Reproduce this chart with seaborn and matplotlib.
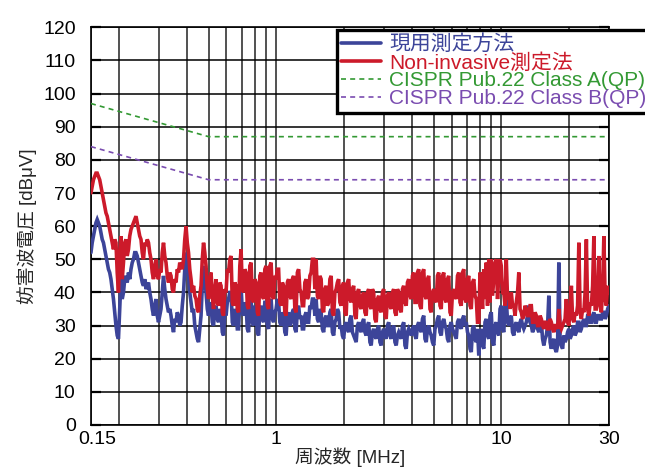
import numpy as np
import pandas as pd
import matplotlib
matplotlib.use("Agg")
import matplotlib.pyplot as plt
import matplotlib.transforms as mtransforms
import seaborn as sns
from matplotlib.ticker import LogLocator, NullFormatter, FixedLocator

# ---------------- data ----------------
n_points = 415
freq_start, freq_stop = 0.15, 30.0

red_noninvasive = [
    70, 72, 74, 75, 76, 76, 75, 74, 72, 70,
    68, 66, 64, 63, 61, 59, 57, 55, 53, 56,
    55, 46, 40, 52, 57, 44, 49, 55, 56, 51,
    53, 57, 59, 60, 61, 62, 63, 61, 59, 57,
    56, 52, 50, 55, 54, 56, 55, 52, 50, 46,
    44, 48, 50, 45, 44, 47, 46, 52, 55, 51,
    49, 45, 43, 46, 45, 41, 40, 44, 43, 47,
    46, 49, 48, 47, 50, 56, 60, 55, 52, 47,
    44, 40, 42, 39, 38, 35, 34, 39, 42, 50,
    55, 52, 48, 41, 38, 44, 46, 39, 35, 41,
    44, 37, 36, 43, 42, 34, 33, 41, 40, 47,
    46, 50, 51, 37, 36, 43, 42, 35, 34, 48,
    53, 41, 40, 47, 46, 36, 35, 48, 49, 38,
    37, 44, 43, 34, 33, 45, 46, 39, 38, 47,
    48, 36, 35, 48, 49, 39, 38, 45, 44, 47,
    47, 37, 36, 43, 42, 34, 33, 43, 44, 39,
    38, 44, 45, 35, 34, 46, 47, 41, 40, 36,
    36, 43, 44, 38, 39, 45, 46, 50, 50, 41,
    50, 39, 38, 45, 44, 35, 34, 41, 42, 36,
    37, 44, 45, 34, 33, 40, 41, 43, 44, 37,
    36, 42, 43, 34, 33, 43, 44, 38, 37, 41,
    42, 33, 32, 40, 41, 36, 35, 39, 40, 34,
    33, 40, 41, 36, 35, 41, 40, 32, 31, 38,
    39, 35, 34, 40, 41, 33, 32, 39, 40, 36,
    35, 40, 41, 34, 33, 41, 40, 35, 34, 41,
    42, 37, 36, 43, 44, 39, 38, 45, 46, 37,
    37, 46, 47, 36, 35, 46, 47, 39, 38, 44,
    45, 35, 34, 40, 41, 38, 37, 45, 46, 36,
    35, 45, 46, 38, 37, 44, 45, 34, 33, 40,
    41, 39, 38, 45, 46, 37, 36, 46, 47, 38,
    37, 44, 45, 36, 35, 43, 44, 39, 38, 31,
    31, 46, 42, 35, 47, 38, 49, 36, 50, 37,
    50, 39, 44, 49, 50, 38, 45, 50, 48, 40,
    40, 36, 50, 38, 39, 35, 40, 36, 36, 33,
    37, 40, 46, 35, 34, 32, 33, 36, 35, 33,
    33, 36, 36, 31, 31, 34, 33, 30, 30, 33,
    32, 30, 29, 31, 31, 29, 29, 32, 31, 29,
    28, 30, 30, 29, 35, 30, 29, 30, 31, 32,
    38, 31, 30, 35, 42, 32, 31, 34, 33, 36,
    55, 34, 32, 35, 34, 40, 56, 35, 33, 37,
    36, 42, 57, 35, 35, 40, 51, 36, 34, 41,
    57, 38, 36, 42, 40,
]

blue_current = [
    52, 55, 57, 59, 61, 62, 61, 60, 58, 56,
    55, 53, 51, 49, 47, 46, 44, 41, 38, 34,
    30, 27, 26, 35, 44, 38, 40, 44, 45, 43,
    46, 44, 47, 49, 50, 52, 52, 51, 49, 47,
    45, 43, 42, 44, 41, 42, 43, 40, 38, 35,
    33, 36, 38, 33, 31, 33, 35, 40, 45, 41,
    38, 36, 34, 35, 33, 30, 28, 32, 31, 34,
    33, 30, 31, 36, 40, 47, 52, 48, 45, 40,
    37, 34, 35, 30, 28, 26, 25, 29, 33, 42,
    48, 44, 40, 35, 33, 37, 36, 31, 30, 35,
    36, 32, 31, 35, 34, 28, 27, 34, 33, 37,
    38, 40, 40, 31, 30, 35, 34, 29, 29, 38,
    42, 34, 33, 37, 36, 29, 28, 37, 38, 31,
    30, 36, 35, 28, 27, 35, 36, 32, 31, 37,
    37, 30, 29, 37, 38, 32, 31, 34, 35, 38,
    37, 31, 30, 34, 33, 28, 27, 33, 34, 30,
    31, 34, 35, 29, 28, 35, 36, 32, 33, 29,
    29, 33, 34, 31, 31, 36, 35, 38, 38, 33,
    38, 32, 31, 35, 34, 29, 28, 32, 33, 30,
    30, 34, 35, 28, 27, 31, 32, 35, 34, 29,
    30, 27, 26, 30, 31, 29, 28, 32, 33, 28,
    27, 26, 25, 30, 31, 29, 28, 31, 32, 28,
    27, 30, 31, 25, 24, 28, 29, 27, 26, 29,
    30, 25, 24, 28, 29, 27, 26, 30, 31, 27,
    26, 29, 30, 25, 24, 27, 28, 27, 26, 30,
    31, 24, 23, 28, 29, 28, 27, 29, 30, 27,
    26, 30, 31, 29, 28, 32, 33, 26, 25, 29,
    30, 28, 27, 25, 24, 29, 30, 32, 33, 28,
    27, 31, 32, 30, 29, 26, 25, 30, 31, 29,
    28, 27, 26, 31, 32, 30, 29, 32, 33, 30,
    31, 28, 27, 23, 22, 29, 30, 26, 25, 29,
    21, 27, 29, 24, 23, 31, 32, 27, 26, 33,
    34, 25, 24, 30, 31, 28, 27, 35, 36, 29,
    28, 36, 38, 31, 30, 32, 33, 28, 27, 30,
    31, 29, 28, 31, 32, 30, 29, 30, 31, 33,
    36, 31, 30, 28, 29, 31, 32, 29, 28, 30,
    31, 26, 24, 26, 27, 30, 39, 25, 23, 25,
    26, 23, 22, 24, 49, 26, 24, 23, 27, 25,
    26, 28, 29, 26, 27, 29, 30, 27, 28, 31,
    31, 28, 29, 31, 32, 30, 30, 33, 33, 31,
    31, 33, 34, 31, 31, 33, 33, 32, 32, 34,
    34, 32, 33, 35, 36,
]

limit_freq = [0.15, 0.5, 30.0]
limit_class_a = [97, 87, 87]
limit_class_b = [84, 74, 74]

labels = ["現用測定方法", "Non-invasive測定法",
          "CISPR Pub.22 Class A(QP)", "CISPR Pub.22 Class B(QP)"]
xtick_vals = [0.15, 1, 10, 30]
xtick_labels = ["0.15", "1", "10", "30"]
yticks = list(range(0, 121, 10))

assert len(red_noninvasive) == n_points and len(blue_current) == n_points
freq = np.geomspace(freq_start, freq_stop, n_points)

# ---------------- style ----------------
sns.set_style("white")
plt.rcParams["font.family"] = ["Liberation Sans", "Noto Sans CJK JP"]

c_blue = "#3c4499"
c_red = "#cc1a2a"
c_green = "#339933"
c_purple = "#7a4cb0"

fig = plt.figure(figsize=(6.45, 4.67), dpi=100)
ax = fig.add_axes([0.141, 0.09, 0.803, 0.8515])

sns.lineplot(x=freq, y=blue_current, ax=ax, color=c_blue, lw=2.6,
             label=labels[0], zorder=3, solid_joinstyle="miter")
sns.lineplot(x=freq, y=red_noninvasive, ax=ax, color=c_red, lw=2.6,
             label=labels[1], zorder=4, solid_joinstyle="miter")
sns.lineplot(x=limit_freq, y=limit_class_a, ax=ax, color=c_green, lw=1.2,
             linestyle=(0, (3, 2.5)), label=labels[2], zorder=3)
sns.lineplot(x=limit_freq, y=limit_class_b, ax=ax, color=c_purple, lw=1.2,
             linestyle=(0, (3, 2.5)), label=labels[3], zorder=3)

ax.set_xscale("log")
ax.set_xlim(freq_start, freq_stop)
ax.set_ylim(0, 120)
ax.xaxis.set_major_locator(FixedLocator(xtick_vals))
ax.set_xticklabels(xtick_labels)
ax.xaxis.set_minor_locator(LogLocator(base=10, subs=range(2, 10)))
ax.xaxis.set_minor_formatter(NullFormatter())
ax.set_yticks(yticks)

ax.grid(True, which="both", axis="x", color="black", lw=1.2, alpha=0.8, zorder=1)
ax.grid(True, which="major", axis="y", color="black", lw=1.3, alpha=0.85, zorder=1)
ax.set_axisbelow(True)

ax.tick_params(axis="x", which="both", length=0, labelsize=14, pad=4, colors="black")
ax.tick_params(axis="y", which="major", direction="in", length=7, width=1.6,
               left=True, right=True, labelsize=14, pad=11, colors="black")
for s in ax.spines.values():
    s.set_color("black")
    s.set_linewidth(1.2)

# shift the first x tick label slightly right, as in the reference
first_lbl = ax.get_xticklabels()[0]
first_lbl.set_transform(first_lbl.get_transform() +
                        mtransforms.ScaledTranslation(6 / 100, 0, fig.dpi_scale_trans))

ax.set_xlabel("周波数 [MHz]", fontsize=13.5, labelpad=0)
ax.set_ylabel("妨害波電圧 [dBμV]", fontsize=13.5, labelpad=4)

leg = ax.legend(loc="upper left", bbox_to_anchor=(337 / 645, 1 - 30 / 467),
                bbox_transform=fig.transFigure, fontsize=15, labelcolor="linecolor",
                frameon=True, fancybox=False, framealpha=1, edgecolor="black",
                borderpad=0.2, labelspacing=-0.05, handlelength=1.9,
                handletextpad=0.4, borderaxespad=0)
leg.get_frame().set_linewidth(2.4)
leg.set_zorder(10)

fig.savefig("out.png", dpi=100)
